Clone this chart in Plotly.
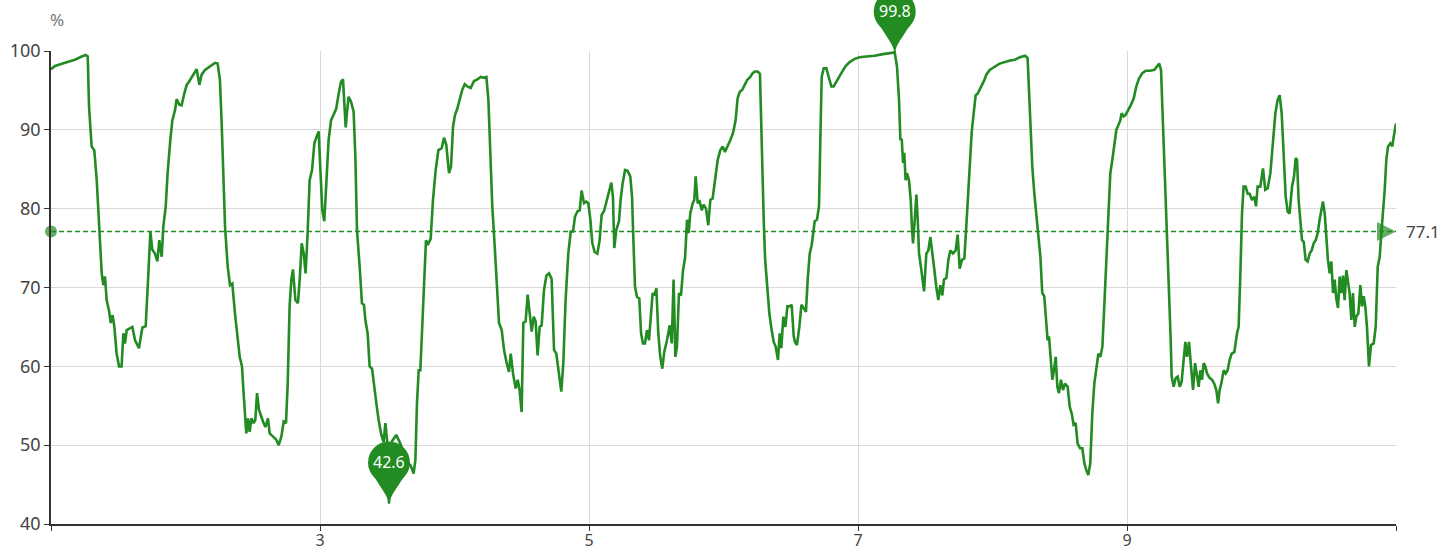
import plotly.graph_objects as go

# ---- data (x = day, y = relative humidity %) ----
days = [
    1.000, 1.030, 1.104, 1.178, 1.228, 1.258, 1.273, 1.283, 1.302, 1.322, 1.340, 1.357, 1.377, 1.389, 1.401, 1.414,
    1.431, 1.444, 1.458, 1.471, 1.488, 1.506, 1.525, 1.538, 1.550, 1.563, 1.580, 1.605, 1.625, 1.654, 1.679, 1.704,
    1.724, 1.739, 1.753, 1.773, 1.791, 1.805, 1.823, 1.835, 1.853, 1.867, 1.887, 1.902, 1.922, 1.934, 1.954, 1.971,
    1.991, 2.009, 2.026, 2.046, 2.066, 2.083, 2.103, 2.120, 2.145, 2.170, 2.195, 2.219, 2.239, 2.256, 2.269, 2.281,
    2.294, 2.314, 2.331, 2.348, 2.368,
    2.403, 2.420, 2.432, 2.452, 2.465, 2.477, 2.490, 2.507, 2.519, 2.532, 2.546, 2.561, 2.576, 2.594, 2.613, 2.626,
    2.651, 2.675, 2.693, 2.713, 2.730, 2.747, 2.760, 2.774, 2.787, 2.799, 2.817, 2.836, 2.849, 2.864, 2.879, 2.893,
    2.908, 2.923, 2.941, 2.958, 2.978, 2.990, 3.002, 3.017, 3.032, 3.047, 3.064, 3.082, 3.102, 3.121, 3.139, 3.156,
    3.171, 3.181, 3.191, 3.201, 3.213, 3.230, 3.250, 3.263, 3.275, 3.295, 3.312, 3.327, 3.337, 3.354, 3.369, 3.387,
    3.399, 3.419, 3.436, 3.456, 3.473, 3.486, 3.498, 3.513, 3.535, 3.567, 3.597, 3.647, 3.672, 3.696, 3.709, 3.721,
    3.734, 3.746, 3.758, 3.766, 3.778, 3.788, 3.801,
    3.823, 3.840, 3.860, 3.880, 3.905, 3.922, 3.939, 3.959, 3.974, 3.989, 4.004, 4.021, 4.038, 4.058, 4.076, 4.095,
    4.120, 4.145, 4.170, 4.195, 4.219, 4.237, 4.252, 4.264, 4.281, 4.299, 4.313, 4.331, 4.351, 4.368, 4.388, 4.405,
    4.418, 4.435, 4.455, 4.470, 4.484, 4.499, 4.512, 4.529, 4.544, 4.559, 4.574, 4.589, 4.603, 4.618, 4.633, 4.648,
    4.665, 4.683, 4.703, 4.722, 4.740, 4.757, 4.777, 4.794, 4.809, 4.826, 4.846, 4.864, 4.881, 4.896, 4.916, 4.931,
    4.945, 4.963, 4.980, 4.995, 5.010, 5.025, 5.042, 5.062, 5.079, 5.094, 5.112, 5.129, 5.149, 5.166, 5.178, 5.188,
    5.203, 5.223, 5.235,
    5.250, 5.268, 5.287, 5.307, 5.320, 5.330, 5.342, 5.357, 5.374, 5.387, 5.401, 5.416, 5.431, 5.446, 5.461, 5.473,
    5.486, 5.501, 5.515, 5.530, 5.545, 5.560, 5.580, 5.600, 5.615, 5.629, 5.642, 5.654, 5.669, 5.684, 5.699, 5.714,
    5.729, 5.741, 5.753, 5.771, 5.783, 5.793, 5.808, 5.823, 5.838, 5.852, 5.870, 5.887, 5.902, 5.919, 5.937, 5.957,
    5.976, 5.994, 6.011, 6.031, 6.051, 6.071, 6.090, 6.105, 6.120, 6.140, 6.155, 6.175, 6.199, 6.217, 6.234, 6.254,
    6.271, 6.284, 6.299, 6.309, 6.323, 6.341, 6.358, 6.373, 6.388, 6.405, 6.418, 6.430, 6.445, 6.460, 6.475, 6.492,
    6.507, 6.522, 6.532, 6.546, 6.564, 6.579, 6.596, 6.613, 6.626, 6.641, 6.656,
    6.678, 6.695, 6.710, 6.720, 6.730, 6.745, 6.765, 6.782, 6.802, 6.819, 6.844, 6.876, 6.908, 6.938, 6.975, 7.012,
    7.062, 7.124, 7.186, 7.273, 7.290, 7.305, 7.315, 7.325, 7.335, 7.344, 7.354, 7.364, 7.379, 7.392, 7.401, 7.409,
    7.421, 7.434, 7.444, 7.454, 7.471, 7.491, 7.508, 7.523, 7.538, 7.550, 7.568, 7.582, 7.597, 7.612, 7.627, 7.639,
    7.657, 7.672, 7.686, 7.706, 7.726, 7.741, 7.756, 7.773, 7.791, 7.805, 7.818, 7.830, 7.845, 7.860, 7.875, 7.890,
    7.905, 7.922, 7.939, 7.954, 7.979, 8.016, 8.053,
    8.130, 8.167, 8.204, 8.242, 8.261, 8.271, 8.281, 8.296, 8.311, 8.326, 8.341, 8.356, 8.370, 8.385, 8.400, 8.410,
    8.420, 8.432, 8.445, 8.457, 8.470, 8.482, 8.494, 8.509, 8.524, 8.539, 8.559, 8.574, 8.589, 8.603, 8.618, 8.633,
    8.651, 8.668, 8.683, 8.698, 8.712, 8.727, 8.742, 8.757, 8.772, 8.787, 8.802, 8.817, 8.831, 8.846, 8.861, 8.876,
    8.891, 8.906, 8.921, 8.936, 8.950, 8.960, 8.975, 8.990, 9.010, 9.030, 9.050, 9.069, 9.089, 9.114, 9.139, 9.171,
    9.203, 9.223, 9.240, 9.253, 9.263, 9.275, 9.288, 9.302, 9.315, 9.325, 9.332, 9.347, 9.362, 9.377, 9.392, 9.406,
    9.421, 9.434, 9.446, 9.461, 9.476, 9.491, 9.506,
    9.520, 9.533, 9.545, 9.558, 9.570, 9.582, 9.595, 9.615, 9.632, 9.649, 9.664, 9.677, 9.689, 9.701, 9.719, 9.734,
    9.748, 9.763, 9.778, 9.798, 9.818, 9.830, 9.843, 9.855, 9.867, 9.882, 9.897, 9.912, 9.929, 9.947, 9.959, 9.971,
    9.991, 10.011, 10.028, 10.046, 10.066, 10.085, 10.103, 10.120, 10.135, 10.150, 10.165, 10.180, 10.195, 10.209,
    10.227, 10.242, 10.254, 10.264, 10.276, 10.289, 10.301, 10.314, 10.328, 10.343, 10.358, 10.373, 10.388, 10.403,
    10.418, 10.432, 10.445, 10.457, 10.470, 10.482, 10.494, 10.507, 10.519, 10.532, 10.544, 10.556, 10.569, 10.581,
    10.594, 10.606, 10.618, 10.631, 10.643, 10.655, 10.668, 10.680, 10.693, 10.705, 10.720, 10.735, 10.747, 10.760,
    10.772, 10.784, 10.799, 10.814, 10.834, 10.849, 10.864, 10.879, 10.891, 10.903, 10.916, 10.928, 10.941, 10.958,
    10.973, 10.983, 11.000,
]

humidity = [
    97.7, 98.1, 98.5, 98.9, 99.3, 99.5, 99.3, 92.9, 87.9, 87.4, 83.6, 77.7, 71.8, 70.3, 71.4, 68.4,
    67.1, 65.5, 66.5, 65.0, 61.6, 60.0, 60.0, 64.2, 62.9, 64.6, 64.8, 65.0, 63.3, 62.3, 64.9, 65.1,
    71.8, 77.1, 74.8, 74.3, 73.3, 76.0, 73.9, 77.7, 80.3, 84.5, 88.7, 91.2, 92.5, 93.9, 93.2, 93.1,
    94.6, 95.7, 96.1, 96.7, 97.2, 97.7, 95.7, 97.0, 97.6, 97.9, 98.2, 98.5, 98.4, 96.3, 90.8, 83.6,
    77.7, 72.6, 70.3, 70.5, 66.7,
    61.2, 60.0, 56.6, 51.5, 53.4, 51.7, 53.4, 52.8, 53.2, 56.6, 54.5, 53.6, 53.0, 52.3, 53.4, 51.5,
    51.1, 50.7, 50.0, 51.1, 53.0, 52.8, 57.8, 67.6, 71.0, 72.3, 68.4, 68.0, 71.0, 75.6, 74.3, 71.8,
    76.9, 83.6, 84.9, 88.3, 89.3, 89.8, 85.3, 79.8, 78.4, 83.6, 88.7, 91.2, 92.1, 92.7, 94.6, 96.1,
    96.4, 93.8, 90.3, 92.3, 94.2, 93.6, 92.3, 86.6, 77.3, 72.6, 68.0, 67.8, 65.9, 64.2, 60.0, 59.7,
    57.8, 55.3, 53.2, 51.3, 50.4, 52.8, 50.7, 42.6, 50.5, 51.3, 50.2, 47.7, 47.5, 46.4, 48.1, 55.3,
    59.5, 59.5, 64.2, 67.1, 71.8, 76.0, 75.4,
    76.2, 81.1, 84.9, 87.4, 87.7, 89.0, 88.1, 84.5, 85.3, 90.4, 91.9, 92.7, 94.0, 95.1, 95.8, 95.5,
    95.3, 96.2, 96.4, 96.7, 96.6, 96.7, 93.8, 87.4, 80.3, 75.2, 71.0, 65.5, 64.6, 62.1, 60.4, 59.3,
    61.6, 59.1, 57.2, 58.3, 57.0, 54.2, 65.5, 65.7, 69.1, 67.1, 64.4, 66.3, 65.7, 61.4, 65.0, 65.2,
    69.6, 71.5, 71.8, 71.1, 62.1, 61.6, 58.7, 56.8, 60.4, 68.4, 74.3, 77.1, 77.1, 79.0, 79.7, 79.8,
    82.3, 80.7, 80.9, 80.7, 78.6, 75.6, 74.5, 74.3, 76.0, 79.2, 79.7, 80.9, 82.4, 83.3, 81.5, 75.0,
    77.3, 78.4, 81.1,
    83.2, 84.9, 84.8, 84.1, 81.5, 76.0, 70.1, 68.8, 68.6, 64.2, 62.9, 62.9, 64.6, 63.3, 66.3, 69.3,
    69.0, 69.9, 64.2, 61.2, 59.7, 61.9, 63.3, 65.2, 62.9, 71.0, 61.2, 62.5, 69.3, 69.0, 72.2, 73.7,
    78.6, 76.9, 79.4, 80.7, 81.1, 84.1, 80.7, 80.9, 79.8, 80.5, 80.0, 77.9, 81.1, 81.3, 83.6, 86.2,
    87.4, 87.9, 87.2, 87.9, 88.7, 89.6, 91.2, 94.0, 94.8, 95.1, 95.7, 96.3, 96.7, 97.2, 97.4, 97.4,
    97.1, 87.4, 78.6, 73.7, 70.1, 66.7, 64.6, 63.1, 62.5, 60.8, 64.2, 62.3, 66.3, 65.0, 67.6, 67.6,
    67.8, 63.8, 63.1, 62.7, 65.0, 67.8, 67.4, 66.9, 71.0, 74.3, 75.4,
    78.4, 78.6, 80.3, 88.7, 96.7, 97.8, 97.8, 96.7, 95.5, 95.5, 96.3, 97.2, 98.1, 98.6, 99.0, 99.2,
    99.3, 99.4, 99.6, 99.8, 98.0, 93.8, 88.7, 88.9, 85.8, 87.1, 83.6, 84.5, 83.6, 81.1, 77.7, 75.6,
    78.4, 81.8, 78.6, 74.3, 72.2, 69.5, 74.3, 74.7, 76.4, 74.9, 72.2, 70.1, 68.4, 70.3, 69.0, 71.0,
    71.2, 73.5, 74.7, 74.3, 74.7, 76.7, 72.4, 73.5, 73.7, 77.7, 81.5, 85.3, 89.6, 92.1, 94.4, 94.6,
    95.1, 95.7, 96.3, 97.0, 97.6, 98.0, 98.4,
    98.8, 98.9, 99.2, 99.4, 99.1, 95.1, 89.6, 85.3, 81.9, 79.0, 76.0, 73.9, 69.3, 68.9, 65.5, 63.3,
    63.8, 60.8, 58.3, 59.5, 61.2, 57.4, 56.6, 58.3, 57.0, 57.8, 57.4, 54.9, 54.0, 52.6, 52.8, 50.2,
    49.6, 49.6, 47.7, 46.8, 46.2, 47.7, 54.0, 57.8, 60.0, 61.6, 61.2, 62.5, 67.6, 73.5, 79.4, 84.5,
    86.2, 87.9, 90.0, 90.6, 91.2, 92.1, 91.7, 91.9, 92.5, 93.2, 94.0, 95.5, 96.5, 97.2, 97.5, 97.5,
    97.6, 98.0, 98.4, 97.6, 92.9, 86.6, 80.3, 73.9, 69.6, 63.3, 58.7, 57.4, 58.5, 58.7, 57.4, 58.0,
    60.8, 63.1, 61.2, 63.1, 60.0, 57.0, 60.4,
    59.1, 57.4, 59.5, 58.3, 60.4, 60.0, 59.1, 58.5, 58.3, 57.8, 57.0, 55.3, 57.0, 57.8, 59.5, 59.1,
    59.5, 60.8, 61.6, 61.8, 64.2, 65.0, 71.8, 79.4, 82.8, 82.8, 81.9, 81.9, 81.1, 81.5, 80.3, 82.8,
    82.8, 85.1, 82.4, 82.6, 84.5, 88.3, 92.1, 93.8, 94.4, 92.1, 86.6, 81.5, 79.6, 79.4,
    82.8, 84.1, 86.4, 86.2, 81.1, 77.9, 76.0, 75.8, 73.5, 73.3, 74.3, 74.7, 75.6, 76.0,
    76.9, 78.6, 79.8, 80.9, 79.4, 76.6, 73.5, 71.8, 73.3, 69.3, 71.0, 68.6, 67.4, 71.4,
    69.3, 71.5, 68.4, 72.2, 71.0, 69.3, 65.9, 69.3, 65.0, 66.3, 66.7, 70.3, 67.6, 68.9,
    67.6, 65.0, 60.0, 62.7, 62.9, 65.0, 72.6, 73.9, 76.9, 79.4, 82.4, 86.2, 87.9, 88.3,
    87.9, 89.1, 90.8,
]

AVERAGE = 77.1
X_RANGE = [1, 11]
Y_RANGE = [40, 100]
x_tick_vals = [1, 3, 5, 7, 9, 11]
x_tick_text = ["", "3", "5", "7", "9", ""]
y_tick_vals = [40, 50, 60, 70, 80, 90, 100]

GREEN = "#228B22"
FONT = "Noto Sans, Open Sans, sans-serif"

fig = go.Figure()

fig.add_trace(go.Scatter(
    x=days, y=humidity, mode="lines",
    line=dict(color=GREEN, width=2.6),
    hoverinfo="x+y", showlegend=False,
))

# average line (markLine style)
fig.add_trace(go.Scatter(
    x=[X_RANGE[0], X_RANGE[1]], y=[AVERAGE, AVERAGE], mode="lines+markers",
    line=dict(color=GREEN, width=1.4, dash="5px,3px"),
    marker=dict(symbol=["circle", "arrow-right"], size=[12, 19], color=GREEN, line=dict(width=0)),
    cliponaxis=False, showlegend=False, hoverinfo="skip",
))

shapes = []
annotations = []


def add_pin(xv, yv):
    xa = (xv - X_RANGE[0]) / (X_RANGE[1] - X_RANGE[0])
    ya = (yv - Y_RANGE[0]) / (Y_RANGE[1] - Y_RANGE[0])
    common = dict(xref="paper", yref="paper", xsizemode="pixel", ysizemode="pixel",
                  xanchor=xa, yanchor=ya, fillcolor=GREEN, line=dict(width=0), layer="above")
    shapes.append(dict(type="circle", x0=-21, x1=21, y0=20, y1=62, **common))
    shapes.append(dict(type="path",
                       path="M-1,0 L-1,3 C-3,10 -9,17 -15,27 L15,27 C9,17 3,10 1,3 L1,0 Z", **common))
    annotations.append(dict(x=xv, y=yv, xref="x", yref="y", yshift=42, text=f"{yv:.1f}",
                            showarrow=False, font=dict(color="white", size=16, family=FONT)))


i_max = max(range(len(humidity)), key=lambda i: humidity[i])
i_min = min(range(len(humidity)), key=lambda i: humidity[i])
add_pin(days[i_max], humidity[i_max])
add_pin(days[i_min], humidity[i_min])

annotations.append(dict(x=X_RANGE[1], y=AVERAGE, xref="x", yref="y", xanchor="left", xshift=8,
                        text=f"{AVERAGE:.1f}", showarrow=False,
                        font=dict(color="#444", size=17, family=FONT)))
annotations.append(dict(x=0, y=1, xref="paper", yref="paper", xanchor="center", yanchor="bottom",
                        xshift=6, yshift=18, text="%", showarrow=False,
                        font=dict(color="#777", size=17, family=FONT)))

fig.update_layout(
    width=1453, height=551,
    margin=dict(l=51, r=57, t=51, b=27, autoexpand=False),
    paper_bgcolor="white", plot_bgcolor="white",
    font=dict(family=FONT, size=18, color="#444"),
    shapes=shapes, annotations=annotations,
    xaxis=dict(range=X_RANGE, tickmode="array", tickvals=x_tick_vals, ticktext=x_tick_text,
               showgrid=True, gridcolor="#d9d9d9", gridwidth=1, zeroline=False, automargin=False,
               showline=True, linecolor="#333", linewidth=1.5,
               ticks="outside", ticklen=5, tickcolor="#333",
               tickfont=dict(size=16), ticklabelstandoff=-4),
    yaxis=dict(range=Y_RANGE, tickmode="array", tickvals=y_tick_vals,
               showgrid=True, gridcolor="#d9d9d9", gridwidth=1, zeroline=False, automargin=False,
               showline=True, linecolor="#333", linewidth=1.5,
               ticks="outside", ticklen=5, tickcolor="#333"),
)

fig.write_html("out.html", config={"displayModeBar": False},
               post_script="document.body.style.margin='0';")
